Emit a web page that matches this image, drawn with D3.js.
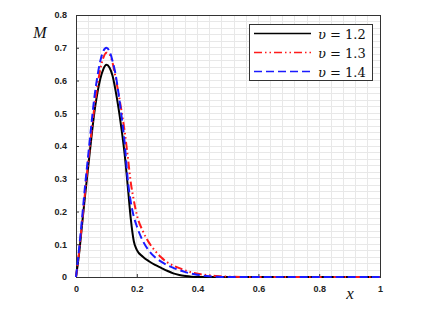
<!DOCTYPE html>
<html><head><meta charset="utf-8">
<script src="https://cdn.jsdelivr.net/npm/d3@7"></script>
<style>body{margin:0;background:#fff;}svg{display:block;}</style>
</head><body>
<script>
const xs = [0,0.01,0.02,0.03,0.04,0.05,0.06,0.07,0.08,0.09,0.10,0.11,0.12,0.13,0.14,0.15,0.16,0.17,0.18,0.19,0.20,0.22,0.24,0.26,0.28,0.30,0.32,0.34,0.36,0.38,0.40,0.42,0.44,0.46,0.48,0.50,0.55,0.60,0.70,0.80,0.90,1.0];
const black12 = [0,0.07,0.16,0.25,0.335,0.42,0.50,0.56,0.605,0.635,0.648,0.64,0.615,0.57,0.515,0.45,0.375,0.28,0.18,0.11,0.083,0.062,0.048,0.037,0.028,0.019,0.011,0.006,0.003,0.001,0,0,0,0,0,0,0,0,0,0,0,0];
const red13 = [0,0.075,0.165,0.26,0.35,0.435,0.515,0.58,0.635,0.67,0.685,0.68,0.655,0.61,0.56,0.505,0.445,0.37,0.29,0.235,0.19,0.14,0.105,0.08,0.06,0.045,0.035,0.027,0.02,0.014,0.01,0.007,0.005,0.003,0.002,0.001,0,0,0,0,0,0];
const blue14 = [0,0.085,0.18,0.28,0.37,0.46,0.545,0.61,0.66,0.69,0.70,0.69,0.66,0.62,0.56,0.49,0.41,0.30,0.23,0.185,0.155,0.11,0.08,0.06,0.047,0.036,0.028,0.021,0.015,0.01,0.007,0.004,0.002,0.001,0,0,0,0,0,0,0,0];
const seriesSymbol = "\u03C5";
const seriesValues = ["1.2","1.3","1.4"];
const xTicks = [0,0.2,0.4,0.6,0.8,1];
const yTicks = [0,0.1,0.2,0.3,0.4,0.5,0.6,0.7,0.8];

const W=433,H=318;
const svg=d3.select("body").append("svg").attr("width",W).attr("height",H);
const L=76,R=380,T=15,B=277;
const x=d3.scaleLinear().domain([0,1]).range([L,R]);
const y=d3.scaleLinear().domain([0,0.8]).range([B,T]);

// grid
const g=svg.append("g");
g.selectAll(".vg").data(d3.range(1,25).map(i=>i*0.04)).enter().append("line")
 .attr("x1",d=>x(d)).attr("x2",d=>x(d)).attr("y1",T).attr("y2",B)
 .attr("stroke","#e8e8e8").attr("stroke-width",1).attr("shape-rendering","crispEdges");
g.selectAll(".hg").data(d3.range(1,40).map(i=>i*0.02)).enter().append("line")
 .attr("y1",d=>y(d)).attr("y2",d=>y(d)).attr("x1",L).attr("x2",R)
 .attr("stroke","#e8e8e8").attr("stroke-width",1).attr("shape-rendering","crispEdges");

// axes
const xa=svg.append("g").attr("transform",`translate(0,${B})`)
 .call(d3.axisBottom(x).tickValues(xTicks).tickSize(-3).tickPadding(9).tickFormat(d=>d===0?"0":d===1?"1":d3.format(".1f")(d)));
const ya=svg.append("g").attr("transform",`translate(${L},0)`)
 .call(d3.axisLeft(y).tickValues(yTicks).tickSize(-3).tickPadding(9).tickFormat(d=>d===0?"0":d3.format(".1f")(d)));
[xa,ya].forEach(a=>{
  a.select(".domain").remove();
  a.selectAll("line").attr("stroke","#333");
  a.selectAll("text").attr("font-family","Liberation Sans, Arial, sans-serif").attr("font-weight","bold").attr("font-size","9px").attr("fill","#222");
});
// frame
svg.append("rect").attr("x",L).attr("y",T).attr("width",R-L).attr("height",B-T)
 .attr("fill","none").attr("stroke","#333").attr("stroke-width",1).attr("shape-rendering","crispEdges");

// lines
const styles=[
 {data:black12,color:"#000",dash:null},
 {data:red13,color:"#ff1a1a",dash:"8,3,1.5,3,1.5,3"},
 {data:blue14,color:"#1a1aff",dash:"8,4"}
];
const line=d3.line().x((d,i)=>x(xs[i])).y(d=>y(d)).curve(d3.curveMonotoneX);
styles.forEach(s=>{
  svg.append("path").datum(s.data).attr("d",line).attr("fill","none")
   .attr("stroke",s.color).attr("stroke-width",2).attr("stroke-dasharray",s.dash);
});
// legend
const lg=svg.append("g");
lg.append("rect").attr("x",249.5).attr("y",24.5).attr("width",123).attr("height",56)
 .attr("fill","#fff").attr("stroke","#333").attr("stroke-width",1);
styles.forEach((s,i)=>{
  const yy=33.5+i*19;
  lg.append("line").attr("x1",254).attr("x2",311).attr("y1",yy).attr("y2",yy)
   .attr("stroke",s.color).attr("stroke-width",1.3).attr("stroke-dasharray",s.dash);
  const t=lg.append("text").attr("x",318).attr("y",yy+5)
   .attr("font-family","DejaVu Serif, Liberation Serif, serif").attr("font-size","13px").attr("fill","#111");
  t.append("tspan").attr("font-style","italic").text(seriesSymbol);
  t.append("tspan").text(" = "+seriesValues[i]);
});
// axis titles
svg.append("text").attr("x",40).attr("y",38).attr("text-anchor","middle").text("M")
 .attr("font-family","Liberation Serif, DejaVu Serif, serif").attr("font-style","italic").attr("font-size","16px").attr("fill","#111");
svg.append("text").attr("x",350).attr("y",299).attr("text-anchor","middle").text("x")
 .attr("font-family","Liberation Serif, DejaVu Serif, serif").attr("font-style","italic").attr("font-size","17px").attr("fill","#111");
</script>
</body></html>
